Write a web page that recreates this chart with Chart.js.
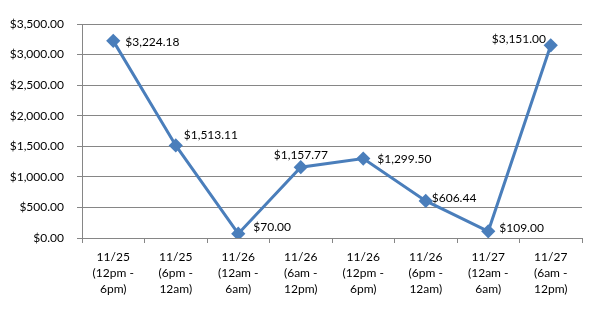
<!DOCTYPE html>
<html>
<head>
<meta charset="utf-8">
<script src="https://cdn.jsdelivr.net/npm/chart.js@4/dist/chart.umd.min.js"></script>
<style>
  html, body { margin: 0; padding: 0; background: #fff; }
  canvas { display: block; }
</style>
</head>
<body>
<canvas id="salesChart" width="598" height="314"></canvas>
<script>
const categories = [
  ["11/25", "(12pm -", "6pm)"],
  ["11/25", "(6pm -", "12am)"],
  ["11/26", "(12am -", "6am)"],
  ["11/26", "(6am -", "12pm)"],
  ["11/26", "(12pm -", "6pm)"],
  ["11/26", "(6pm -", "12am)"],
  ["11/27", "(12am -", "6am)"],
  ["11/27", "(6am -", "12pm)"]
];
const sales = [3224.18, 1513.11, 70.00, 1157.77, 1299.50, 606.44, 109.00, 3151.00];

// where each value label sits relative to its point (left edge x, middle y)
const labelShift = [[12, 1], [8, -10], [15, -7], [-27, -12], [14, 1], [6, -3], [11, -3], [-59, -6]];

const money = v => "$" + Number(v).toLocaleString("en-US", { minimumFractionDigits: 2, maximumFractionDigits: 2 });

const FONT = "Lato";
const GRID = "#868686";

const valueLabels = {
  id: "valueLabels",
  afterDatasetsDraw(chart) {
    const ctx = chart.ctx;
    const meta = chart.getDatasetMeta(0);
    ctx.save();
    ctx.font = "12px " + FONT;
    ctx.fillStyle = "#000";
    ctx.textAlign = "left";
    ctx.textBaseline = "middle";
    meta.data.forEach((pt, i) => {
      const s = labelShift[i];
      ctx.fillText(money(sales[i]), pt.x + s[0], pt.y + s[1]);
    });
    ctx.restore();
  }
};

new Chart(document.getElementById("salesChart").getContext("2d"), {
  type: "line",
  data: {
    labels: categories,
    datasets: [{
      data: sales,
      borderColor: "#4A7EBB",
      backgroundColor: "#4A7EBB",
      borderWidth: 3,
      pointStyle: "rectRot",
      pointRadius: 5,
      pointHoverRadius: 5,
      tension: 0,
      fill: false
    }]
  },
  options: {
    responsive: false,
    animation: false,
    layout: { padding: { top: 24, right: 16, bottom: 0, left: 0 } },
    plugins: {
      legend: { display: false },
      tooltip: { enabled: false }
    },
    scales: {
      x: {
        offset: true,
        grid: { offset: true, drawOnChartArea: false, drawTicks: true, tickLength: 5, color: GRID },
        border: { color: GRID, width: 1 },
        ticks: {
          color: "#000",
          font: { family: FONT, size: 12, lineHeight: 1.35 },
          padding: 6,
          maxRotation: 0,
          autoSkip: false
        },
        afterFit: s => { s.height = 76; }
      },
      y: {
        min: 0,
        max: 3500,
        grid: { color: GRID, tickLength: 5, lineWidth: 1 },
        border: { color: GRID, width: 1 },
        ticks: {
          stepSize: 500,
          color: "#000",
          font: { family: FONT, size: 12 },
          padding: 13,
          callback: v => money(v)
        },
        afterFit: s => { s.width = 82; }
      }
    }
  },
  plugins: [valueLabels]
});
</script>
</body>
</html>
